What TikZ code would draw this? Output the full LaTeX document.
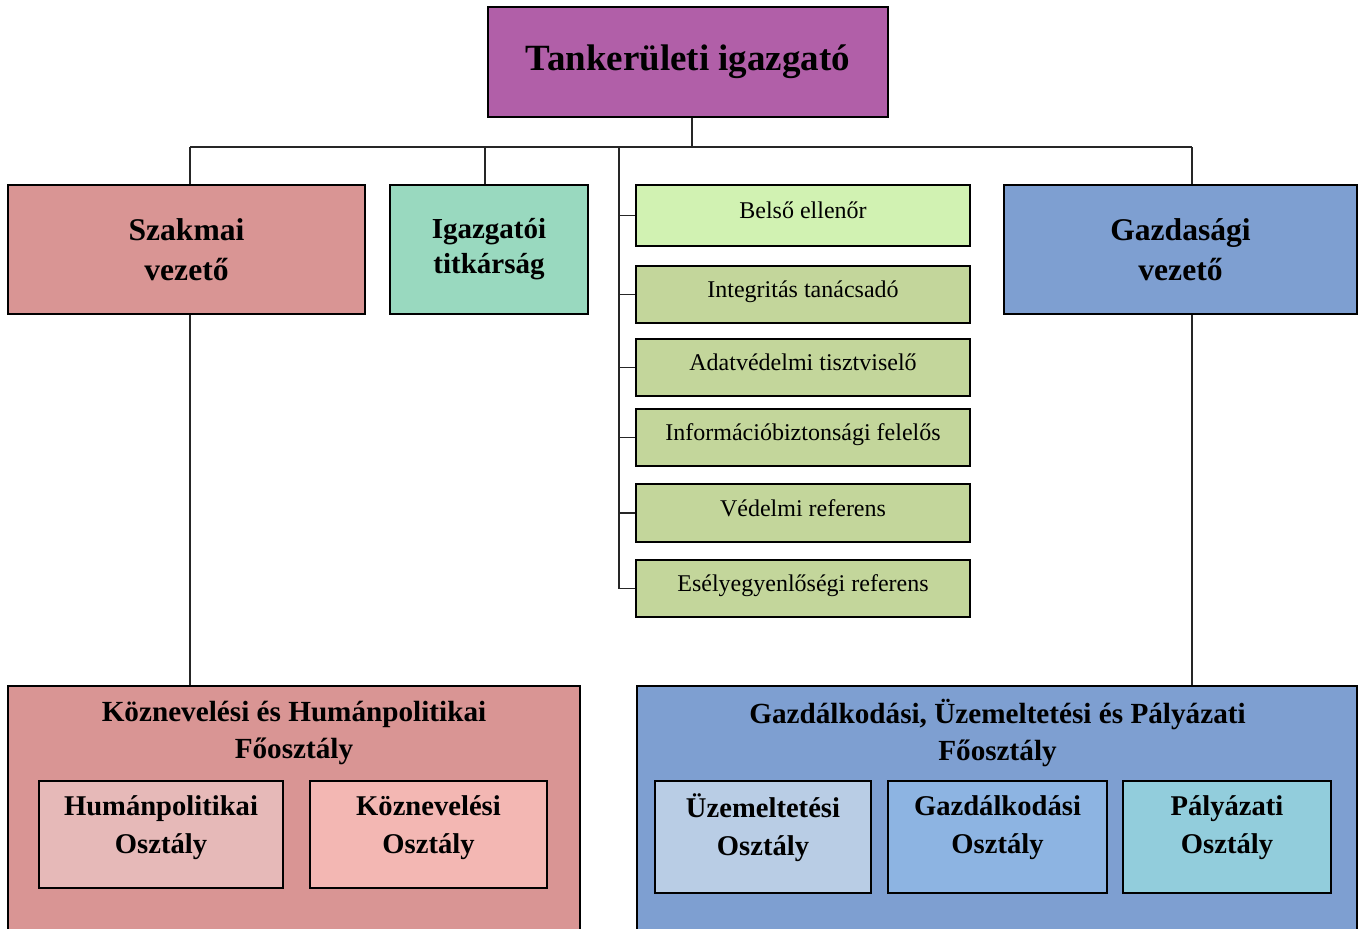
\documentclass[tikz,border=0pt]{standalone}
\usepackage{fontspec}
\setmainfont{Liberation Serif}
\definecolor{cPurple}{HTML}{B15FA8}
\definecolor{cPink}{HTML}{D99594}
\definecolor{cMint}{HTML}{99D9BF}
\definecolor{cBlue}{HTML}{7E9FD1}
\definecolor{cLightGreen}{HTML}{D1F2B2}
\definecolor{cOlive}{HTML}{C3D69B}
\definecolor{cHum}{HTML}{E6B9B8}
\definecolor{cKoz}{HTML}{F3B7B3}
\definecolor{cUzem}{HTML}{B9CDE5}
\definecolor{cGazd}{HTML}{8DB4E2}
\definecolor{cPaly}{HTML}{92CDDC}
\begin{document}
\begin{tikzpicture}[x=0.5pt,y=-0.5pt,
  box/.style={draw=black,line width=1pt,rectangle,inner sep=0pt,align=center},
  conn/.style={draw=black!85,line width=0.6pt},
  lead/.style={font=\bfseries\fontsize{15.8}{20}\selectfont},
  greenbox/.style={box,fill=cOlive,minimum width=167pt,font=\fontsize{12}{14}\selectfont,text height=8pt,text depth=5pt},
  titletxt/.style={font=\bfseries\fontsize{14.6}{18.5}\selectfont,align=center},
  unittxt/.style={font=\bfseries\fontsize{14.3}{19}\selectfont,align=center}]
\useasboundingbox (0,0) rectangle (1365,928);
\clip (0,0) rectangle (1365,928);

% top
\node[box,fill=cPurple,minimum width=200pt,minimum height=55pt,
      font=\bfseries\fontsize{18.5}{22}\selectfont] (top) at (688,62) {Tankerületi igazgató};

% second level
\node[box,fill=cPink,minimum width=178.5pt,minimum height=64.5pt,lead] (szak) at (186.5,249.5) {Szakmai\\vezető};
\node[box,fill=cMint,minimum width=99pt,minimum height=64.5pt,
      font=\bfseries\fontsize{14.5}{17.5}\selectfont] (tit) at (489,249.5) {Igazgatói\\titkárság};
\node[box,fill=cBlue,minimum width=176.5pt,minimum height=64.5pt,lead] (gaz) at (1180.5,249.5) {Gazdasági\\vezető};

% staff boxes
\node[greenbox,fill=cLightGreen,minimum height=30.5pt] (g1) at (803,215.5) {Belső ellenőr};
\node[greenbox,minimum height=28.5pt] (g2) at (803,294.5) {Integritás tanácsadó};
\node[greenbox,minimum height=28.5pt] (g3) at (803,367.5) {Adatvédelmi tisztviselő};
\node[greenbox,minimum height=28.5pt] (g4) at (803,437.5) {Információbiztonsági felelős};
\node[greenbox,minimum height=29pt] (g5) at (803,513) {Védelmi referens};
\node[greenbox,minimum height=28.5pt] (g6) at (803,588.5) {Esélyegyenlőségi referens};

% bottom departments
\node[box,fill=cPink,minimum width=286pt,minimum height=127pt] (kh) at (294,813) {};
\node[titletxt] (khT) at (294,733) {Köznevelési és Humánpolitikai\\Főosztály};
\node[box,fill=cHum,minimum width=122pt,minimum height=53.5pt] (hum) at (161,834.5) {};
\node[unittxt] (humT) at (161,828) {Humánpolitikai\\Osztály};
\node[box,fill=cKoz,minimum width=118.5pt,minimum height=53.5pt] (koz) at (428.5,834.5) {};
\node[unittxt] (kozT) at (428.5,828) {Köznevelési\\Osztály};

\node[box,fill=cBlue,minimum width=360pt,minimum height=127pt] (gup) at (997,813) {};
\node[titletxt] (gupT) at (997.5,733) {Gazdálkodási, Üzemeltetési és Pályázati\\Főosztály};
\node[box,fill=cUzem,minimum width=108pt,minimum height=56pt] (uz) at (763,837) {};
\node[unittxt] (uzT) at (763,828) {Üzemeltetési\\Osztály};
\node[box,fill=cGazd,minimum width=109.5pt,minimum height=56pt] (ga) at (997.5,837) {};
\node[unittxt] (gaT) at (997.5,828) {Gazdálkodási\\Osztály};
\node[box,fill=cPaly,minimum width=104pt,minimum height=56pt] (pa) at (1227,837) {};
\node[unittxt] (paT) at (1227,828) {Pályázati\\Osztály};

% connectors
\coordinate (bus) at (692,147);
\coordinate (busL) at (190,147);
\coordinate (busI) at (485,147);
\coordinate (spine) at (619,147);
\coordinate (busR) at (1192,147);
\draw[conn] (top.south -| bus) -- (bus);
\draw[conn] (busL) -- (busR);
\draw[conn] (busL) -- (busL |- szak.north);
\draw[conn] (busI) -- (busI |- tit.north);
\draw[conn] (busR) -- (busR |- gaz.north);
\draw[conn] (spine) |- (g6.west);
\foreach \g in {g1,g2,g3,g4,g5}{
  \draw[conn] (spine |- \g.west) -- (\g.west);
}
\draw[conn] (szak.south -| busL) -- (busL |- kh.north);
\draw[conn] (gaz.south -| busR) -- (busR |- gup.north);
\end{tikzpicture}
\end{document}
